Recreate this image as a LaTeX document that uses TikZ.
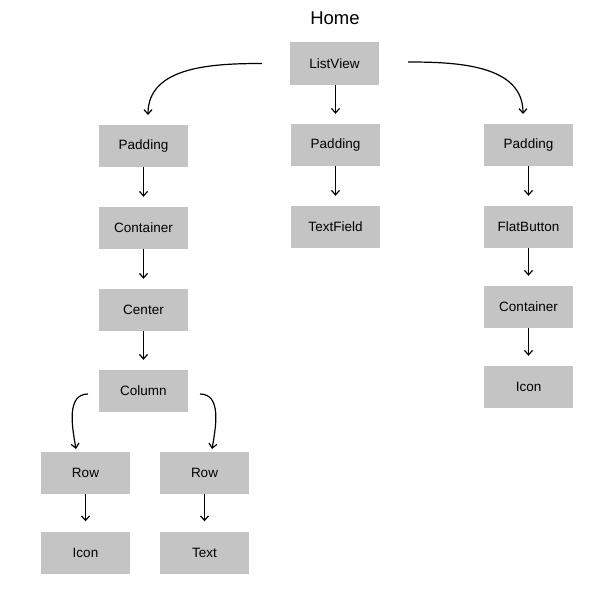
\documentclass[tikz,border=0pt]{standalone}
\usepackage{fontspec}
\setmainfont{Liberation Sans}
\usetikzlibrary{arrows.meta}
\definecolor{boxgray}{HTML}{C4C4C4}
\tikzset{
  wbox/.style={fill=boxgray, draw=none, minimum width=89pt, minimum height=42pt, inner sep=0pt, font=\fontsize{13.5}{15}\selectfont, text=black},
  conn/.style={line width=1.2pt, -{Straight Barb[length=4.5pt,width=8pt,line width=1.2pt]}, shorten >=10pt},
  cconn/.style={line width=1.2pt, -{Straight Barb[length=4.5pt,width=8pt,line width=1.2pt]}}
}
\begin{document}
\begin{tikzpicture}[x=1pt,y=-1pt]
\useasboundingbox (0,0) rectangle (609,597);
\node[font=\fontsize{18.5}{20}\selectfont] (home) at (335,18) {Home};
\node[wbox, minimum height=43pt] (lv) at (334.5,63.5) {ListView};
% left branch
\node[wbox] (p1) at (143.5,146) {Padding};
\node[wbox] (c1) at (143.5,228) {Container};
\node[wbox] (ce) at (143.5,310) {Center};
\node[wbox] (col) at (143.5,391) {Column};
\node[wbox] (r1) at (85.5,473) {Row};
\node[wbox] (r2) at (204.5,473) {Row};
\node[wbox] (i1) at (85.5,552.5) {Icon};
\node[wbox] (t1) at (204.5,552.5) {Text};
% middle branch
\node[wbox] (p2) at (335.5,145) {Padding};
\node[wbox] (tf) at (335.5,227) {TextField};
% right branch
\node[wbox] (p3) at (528.5,145) {Padding};
\node[wbox] (fb) at (528.5,227) {FlatButton};
\node[wbox] (c3) at (528.5,307) {Container};
\node[wbox] (i3) at (528.5,387) {Icon};
% connectors
\coordinate (lvl) at (262,63.5);
\coordinate (lvr) at (408,62);
\coordinate (p1t) at (148,115);
\coordinate (p3t) at (523,114);
\draw[cconn] (lvl) to[out=180,in=90] (p1t);
\draw[cconn] (lvr) to[out=0,in=90] (p3t);
\draw[conn] ([xshift=1pt]lv.south) -- ([xshift=1pt]lv.south |- p2.north);
\draw[conn] (p1.south) -- (c1.north);
\draw[conn] (c1.south) -- (ce.north);
\draw[conn] (ce.south) -- (col.north);
\draw[conn] (p2.south) -- (tf.north);
\draw[conn] (p3.south) -- (fb.north);
\draw[conn] (fb.south) -- (c3.north);
\draw[conn] (c3.south) -- (i3.north);
\draw[conn] (r1.south) -- (i1.north);
\draw[conn] (r2.south) -- (t1.north);
\coordinate (coll) at (88,394);
\coordinate (colr) at (200,394);
\coordinate (r1t) at (76,449);
\coordinate (r2t) at (212,449);
\draw[cconn] (coll) to[out=180,in=100] (r1t);
\draw[cconn] (colr) to[out=0,in=80] (r2t);
\end{tikzpicture}
\end{document}
